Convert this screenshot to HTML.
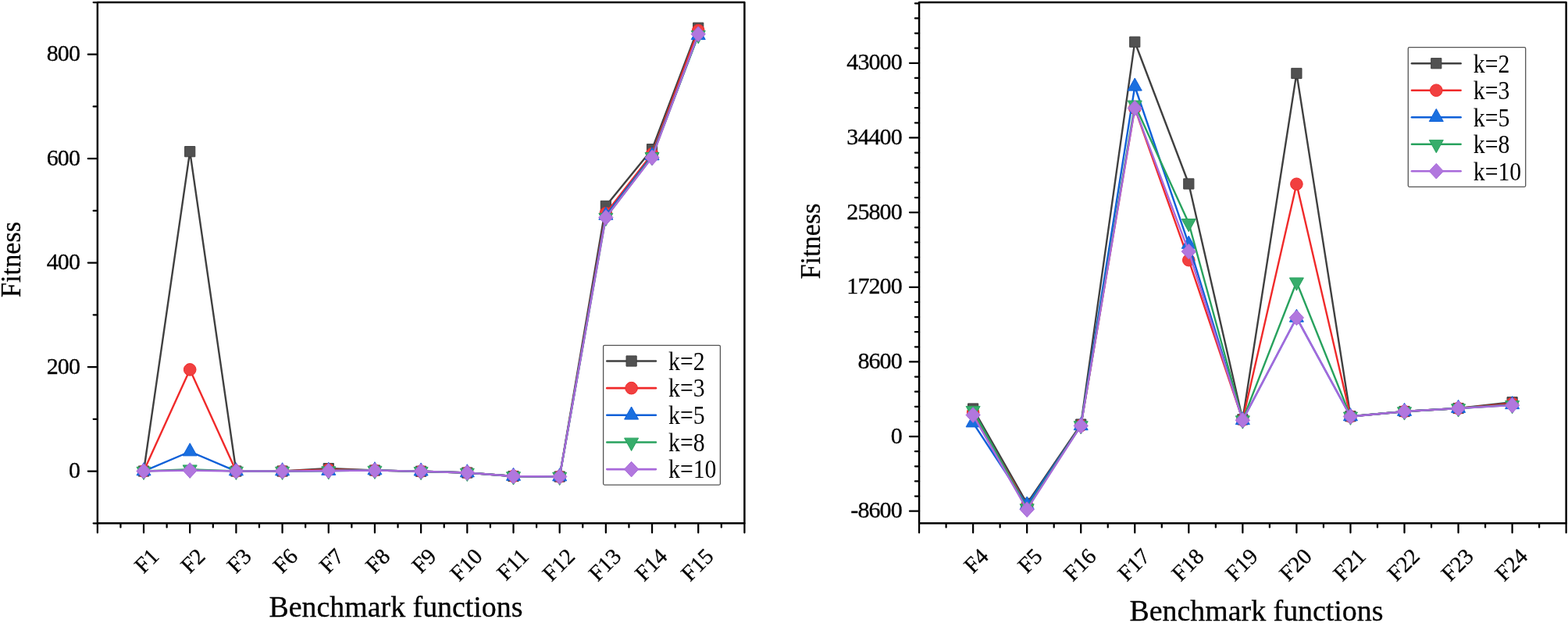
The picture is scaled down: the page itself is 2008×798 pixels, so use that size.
<!DOCTYPE html>
<html lang="en">
<head>
<meta charset="utf-8">
<title>Fitness on benchmark functions for different k</title>
<style>
html,body{margin:0;padding:0;background:#fff;}
body{width:2008px;height:798px;overflow:hidden;}
svg{display:block;font-family:'Liberation Serif', 'DejaVu Serif', serif;}
text{fill:#000;}
.b{stroke:#000;stroke-width:0.3;}
polyline{fill:none;stroke-width:2.4;stroke-linejoin:round;stroke-linecap:round;}
.l0{stroke:#404040;}.l1{stroke:#F02A2A;}.l2{stroke:#0F60D8;}.l3{stroke:#28A25E;}.l4{stroke:#A869DA;}
.m0,.m1,.m2,.m3,.m4{stroke-width:1;stroke-linejoin:round;}
.m0{fill:#515151;stroke:#404040;}
.m1{fill:#F14040;stroke:#F02A2A;}
.m2{fill:#1A6FDF;stroke:#0F60D8;}
.m3{fill:#37AD6B;stroke:#28A25E;}
.m4{fill:#B177DE;stroke:#A869DA;}
</style>
</head>
<body>
<svg width="2008" height="798" viewBox="0 0 2008 798">
<rect width="2008" height="798" fill="#fff"/>
<g id="left-chart">
<polyline class="l0" points="184.03,603.52 243.21,194.17 302.4,603.52 361.58,603.52 420.76,600.06 479.94,602.52 539.12,603.73 598.31,605.53 657.49,610 716.67,610.53 775.85,263.89 835.04,191.16 894.22,35.7"/>
<g class="m0">
<rect x="177.43" y="596.92" width="13.2" height="13.2"/>
<rect x="236.61" y="187.57" width="13.2" height="13.2"/>
<rect x="295.8" y="596.92" width="13.2" height="13.2"/>
<rect x="354.98" y="596.92" width="13.2" height="13.2"/>
<rect x="414.16" y="593.46" width="13.2" height="13.2"/>
<rect x="473.34" y="595.92" width="13.2" height="13.2"/>
<rect x="532.52" y="597.13" width="13.2" height="13.2"/>
<rect x="591.71" y="598.93" width="13.2" height="13.2"/>
<rect x="650.89" y="603.4" width="13.2" height="13.2"/>
<rect x="710.07" y="603.93" width="13.2" height="13.2"/>
<rect x="769.25" y="257.29" width="13.2" height="13.2"/>
<rect x="828.44" y="184.56" width="13.2" height="13.2"/>
<rect x="887.62" y="29.1" width="13.2" height="13.2"/>
</g>
<polyline class="l1" points="184.03,603.52 243.21,473.41 302.4,603.52 361.58,603.52 420.76,601.52 479.94,602.52 539.12,603.73 598.31,605.53 657.49,610 716.67,610.53 775.85,273.24 835.04,197.17 894.22,39.03"/>
<g class="m1">
<circle cx="184.03" cy="603.52" r="7.8"/>
<circle cx="243.21" cy="473.41" r="7.8"/>
<circle cx="302.4" cy="603.52" r="7.8"/>
<circle cx="361.58" cy="603.52" r="7.8"/>
<circle cx="420.76" cy="601.52" r="7.8"/>
<circle cx="479.94" cy="602.52" r="7.8"/>
<circle cx="539.12" cy="603.73" r="7.8"/>
<circle cx="598.31" cy="605.53" r="7.8"/>
<circle cx="657.49" cy="610" r="7.8"/>
<circle cx="716.67" cy="610.53" r="7.8"/>
<circle cx="775.85" cy="273.24" r="7.8"/>
<circle cx="835.04" cy="197.17" r="7.8"/>
<circle cx="894.22" cy="39.03" r="7.8"/>
</g>
<polyline class="l2" points="184.03,603.52 243.21,578.5 302.4,603.52 361.58,603.52 420.76,603.06 479.94,602.52 539.12,603.73 598.31,605.53 657.49,610 716.67,610.53 775.85,275.91 835.04,199.51 894.22,45.3"/>
<g class="m2">
<polygon points="184.03,592.73 193.03,608.82 175.03,608.82"/>
<polygon points="243.21,567.7 252.21,583.8 234.21,583.8"/>
<polygon points="302.4,592.73 311.4,608.82 293.4,608.82"/>
<polygon points="361.58,592.73 370.58,608.82 352.58,608.82"/>
<polygon points="420.76,592.26 429.76,608.36 411.76,608.36"/>
<polygon points="479.94,591.72 488.94,607.82 470.94,607.82"/>
<polygon points="539.12,592.93 548.12,609.03 530.12,609.03"/>
<polygon points="598.31,594.73 607.31,610.83 589.31,610.83"/>
<polygon points="657.49,599.2 666.49,615.3 648.49,615.3"/>
<polygon points="716.67,599.73 725.67,615.83 707.67,615.83"/>
<polygon points="775.85,265.11 784.85,281.21 766.85,281.21"/>
<polygon points="835.04,188.71 844.04,204.81 826.04,204.81"/>
<polygon points="894.22,34.5 903.22,50.6 885.22,50.6"/>
</g>
<polyline class="l3" points="184.03,603.52 243.21,601.19 302.4,603.52 361.58,603.52 420.76,603.06 479.94,602.52 539.12,603.73 598.31,605.53 657.49,610 716.67,610.53 775.85,278.57 835.04,200.84 894.22,44.77"/>
<g class="m3">
<polygon points="175.03,598.23 193.03,598.23 184.03,614.52"/>
<polygon points="234.21,595.89 252.21,595.89 243.21,612.19"/>
<polygon points="293.4,598.23 311.4,598.23 302.4,614.52"/>
<polygon points="352.58,598.23 370.58,598.23 361.58,614.52"/>
<polygon points="411.76,597.76 429.76,597.76 420.76,614.06"/>
<polygon points="470.94,597.22 488.94,597.22 479.94,613.52"/>
<polygon points="530.12,598.43 548.12,598.43 539.12,614.73"/>
<polygon points="589.31,600.23 607.31,600.23 598.31,616.53"/>
<polygon points="648.49,604.7 666.49,604.7 657.49,621"/>
<polygon points="707.67,605.23 725.67,605.23 716.67,621.53"/>
<polygon points="766.85,273.27 784.85,273.27 775.85,289.57"/>
<polygon points="826.04,195.54 844.04,195.54 835.04,211.84"/>
<polygon points="885.22,39.47 903.22,39.47 894.22,55.77"/>
</g>
<polyline class="l4" points="184.03,603.52 243.21,602.52 302.4,603.52 361.58,603.52 420.76,603.06 479.94,602.52 539.12,603.73 598.31,605.53 657.49,610 716.67,610.53 775.85,278.57 835.04,201.84 894.22,43.7"/>
<g class="m4">
<polygon points="184.03,593.73 193.13,603.52 184.03,613.32 174.93,603.52"/>
<polygon points="243.21,592.72 252.31,602.52 243.21,612.32 234.11,602.52"/>
<polygon points="302.4,593.73 311.5,603.52 302.4,613.32 293.3,603.52"/>
<polygon points="361.58,593.73 370.68,603.52 361.58,613.32 352.48,603.52"/>
<polygon points="420.76,593.26 429.86,603.06 420.76,612.86 411.66,603.06"/>
<polygon points="479.94,592.72 489.04,602.52 479.94,612.32 470.84,602.52"/>
<polygon points="539.12,593.93 548.23,603.73 539.12,613.53 530.02,603.73"/>
<polygon points="598.31,595.73 607.41,605.53 598.31,615.33 589.21,605.53"/>
<polygon points="657.49,600.2 666.59,610 657.49,619.8 648.39,610"/>
<polygon points="716.67,600.73 725.77,610.53 716.67,620.33 707.57,610.53"/>
<polygon points="775.85,268.77 784.95,278.57 775.85,288.37 766.75,278.57"/>
<polygon points="835.04,192.04 844.14,201.84 835.04,211.64 825.94,201.84"/>
<polygon points="894.22,33.9 903.32,43.7 894.22,53.5 885.12,43.7"/>
</g>
<g stroke="#000" stroke-width="2.45" fill="none" stroke-linecap="butt">
<rect x="124.85" y="3" width="828.55" height="667.25" stroke-linejoin="round"/>
<path d="M124.85 670.25v12.1M154.44 670.25v5.2M184.03 670.25v12.1M213.62 670.25v5.2M243.21 670.25v12.1M272.81 670.25v5.2M302.4 670.25v12.1M331.99 670.25v5.2M361.58 670.25v12.1M391.17 670.25v5.2M420.76 670.25v12.1M450.35 670.25v5.2M479.94 670.25v12.1M509.53 670.25v5.2M539.12 670.25v12.1M568.72 670.25v5.2M598.31 670.25v12.1M627.9 670.25v5.2M657.49 670.25v12.1M687.08 670.25v5.2M716.67 670.25v12.1M746.26 670.25v5.2M775.85 670.25v12.1M805.44 670.25v5.2M835.04 670.25v12.1M864.63 670.25v5.2M894.22 670.25v12.1M923.81 670.25v5.2M953.4 670.25v12.1M124.85 670.25h-5.2M124.85 603.52h-12.1M124.85 536.8h-5.2M124.85 470.07h-12.1M124.85 403.35h-5.2M124.85 336.62h-12.1M124.85 269.9h-5.2M124.85 203.18h-12.1M124.85 136.45h-5.2M124.85 69.73h-12.1M124.85 3h-5.2" stroke-linecap="round" stroke-width="2.25"/>
</g>
<g class="b" font-size="30" text-anchor="end" letter-spacing="-0.9">
<text x="102" y="612.02">0</text>
<text x="102" y="478.57">200</text>
<text x="102" y="345.12">400</text>
<text x="102" y="211.68">600</text>
<text x="102" y="78.23">800</text>
</g>
<g class="b" font-size="28.7" text-anchor="end">
<text transform="translate(198.53 707.6) rotate(-45)" y="9.47">F1</text>
<text transform="translate(257.71 707.6) rotate(-45)" y="9.47">F2</text>
<text transform="translate(316.9 707.6) rotate(-45)" y="9.47">F3</text>
<text transform="translate(376.08 707.6) rotate(-45)" y="9.47">F6</text>
<text transform="translate(435.26 707.6) rotate(-45)" y="9.47">F7</text>
<text transform="translate(494.44 707.6) rotate(-45)" y="9.47">F8</text>
<text transform="translate(553.62 707.6) rotate(-45)" y="9.47">F9</text>
<text transform="translate(612.81 707.6) rotate(-45)" y="9.47">F10</text>
<text transform="translate(671.99 707.6) rotate(-45)" y="9.47">F11</text>
<text transform="translate(731.17 707.6) rotate(-45)" y="9.47">F12</text>
<text transform="translate(790.35 707.6) rotate(-45)" y="9.47">F13</text>
<text transform="translate(849.54 707.6) rotate(-45)" y="9.47">F14</text>
<text transform="translate(908.72 707.6) rotate(-45)" y="9.47">F15</text>
</g>
<text transform="translate(507 790) scale(1.013 1)" font-size="37.4" text-anchor="middle" class="b">Benchmark functions</text>
<text transform="translate(26.3 332.4) rotate(-90) scale(0.95 1)" font-size="36.1" text-anchor="middle" class="b">Fitness</text>
<rect x="772.6" y="442.3" width="149.8" height="178.8" rx="1.5" fill="#fff" stroke="#555" stroke-width="1.3"/>
<line x1="777.3" y1="462.5" x2="839.9" y2="462.5" stroke="#404040" stroke-width="2.6" stroke-linecap="round"/>
<rect class="m0" x="802" y="455.9" width="13.2" height="13.2"/>
<text transform="translate(856.1 473.8) scale(0.99 1.11)" font-size="30" fill="#2e2e2e">k=2</text>
<line x1="777.3" y1="497.15" x2="839.9" y2="497.15" stroke="#F02A2A" stroke-width="2.6" stroke-linecap="round"/>
<circle class="m1" cx="808.6" cy="497.15" r="7.8"/>
<text transform="translate(856.1 508.45) scale(0.99 1.11)" font-size="30" fill="#2e2e2e">k=3</text>
<line x1="777.3" y1="531.8" x2="839.9" y2="531.8" stroke="#0F60D8" stroke-width="2.6" stroke-linecap="round"/>
<polygon class="m2" points="808.6,521 817.6,537.1 799.6,537.1"/>
<text transform="translate(856.1 543.1) scale(0.99 1.11)" font-size="30" fill="#2e2e2e">k=5</text>
<line x1="777.3" y1="566.45" x2="839.9" y2="566.45" stroke="#28A25E" stroke-width="2.6" stroke-linecap="round"/>
<polygon class="m3" points="799.6,561.15 817.6,561.15 808.6,577.45"/>
<text transform="translate(856.1 577.75) scale(0.99 1.11)" font-size="30" fill="#2e2e2e">k=8</text>
<line x1="777.3" y1="601.1" x2="839.9" y2="601.1" stroke="#A869DA" stroke-width="2.6" stroke-linecap="round"/>
<polygon class="m4" points="808.6,591.3 817.7,601.1 808.6,610.9 799.5,601.1"/>
<text transform="translate(856.1 612.4) scale(0.99 1.11)" font-size="30" fill="#2e2e2e">k=10</text>
</g>
<g id="right-chart">
<polyline class="l0" points="1246.12,523.52 1315.17,644.89 1384.21,543.58 1453.26,53.7 1522.31,235.47 1591.36,537.36 1660.41,93.99 1729.46,533.24 1798.51,527.01 1867.55,523.01 1936.6,515.23"/>
<g class="m0">
<rect x="1239.52" y="516.92" width="13.2" height="13.2"/>
<rect x="1308.57" y="638.29" width="13.2" height="13.2"/>
<rect x="1377.62" y="536.98" width="13.2" height="13.2"/>
<rect x="1446.66" y="47.1" width="13.2" height="13.2"/>
<rect x="1515.71" y="228.87" width="13.2" height="13.2"/>
<rect x="1584.76" y="530.76" width="13.2" height="13.2"/>
<rect x="1653.81" y="87.39" width="13.2" height="13.2"/>
<rect x="1722.86" y="526.64" width="13.2" height="13.2"/>
<rect x="1791.91" y="520.41" width="13.2" height="13.2"/>
<rect x="1860.95" y="516.41" width="13.2" height="13.2"/>
<rect x="1930" y="508.63" width="13.2" height="13.2"/>
</g>
<polyline class="l1" points="1246.12,528.46 1315.17,648.01 1384.21,545.14 1453.26,138.67 1522.31,333.18 1591.36,537.91 1660.41,235.77 1729.46,533.46 1798.51,527.07 1867.55,523.05 1936.6,516.89"/>
<g class="m1">
<circle cx="1246.12" cy="528.46" r="7.8"/>
<circle cx="1315.17" cy="648.01" r="7.8"/>
<circle cx="1384.21" cy="545.14" r="7.8"/>
<circle cx="1453.26" cy="138.67" r="7.8"/>
<circle cx="1522.31" cy="333.18" r="7.8"/>
<circle cx="1591.36" cy="537.91" r="7.8"/>
<circle cx="1660.41" cy="235.77" r="7.8"/>
<circle cx="1729.46" cy="533.46" r="7.8"/>
<circle cx="1798.51" cy="527.07" r="7.8"/>
<circle cx="1867.55" cy="523.05" r="7.8"/>
<circle cx="1936.6" cy="516.89" r="7.8"/>
</g>
<polyline class="l2" points="1246.12,541.58 1315.17,646.9 1384.21,545.42 1453.26,110.76 1522.31,312.94 1591.36,538.31 1660.41,406.94 1729.46,533.46 1798.51,527.07 1867.55,523.05 1936.6,518.34"/>
<g class="m2">
<polygon points="1246.12,530.78 1255.12,546.88 1237.12,546.88"/>
<polygon points="1315.17,636.1 1324.17,652.2 1306.17,652.2"/>
<polygon points="1384.21,534.62 1393.21,550.72 1375.21,550.72"/>
<polygon points="1453.26,99.96 1462.26,116.06 1444.26,116.06"/>
<polygon points="1522.31,302.14 1531.31,318.24 1513.31,318.24"/>
<polygon points="1591.36,527.51 1600.36,543.61 1582.36,543.61"/>
<polygon points="1660.41,396.14 1669.41,412.24 1651.41,412.24"/>
<polygon points="1729.46,522.66 1738.46,538.76 1720.46,538.76"/>
<polygon points="1798.51,516.27 1807.51,532.37 1789.51,532.37"/>
<polygon points="1867.55,512.25 1876.55,528.35 1858.55,528.35"/>
<polygon points="1936.6,507.54 1945.6,523.64 1927.6,523.64"/>
</g>
<polyline class="l3" points="1246.12,525.68 1315.17,651.01 1384.21,545.03 1453.26,134.34 1522.31,285.8 1591.36,538.13 1660.41,361.2 1729.46,533.35 1798.51,527.07 1867.55,523.05 1936.6,518.78"/>
<g class="m3">
<polygon points="1237.12,520.38 1255.12,520.38 1246.12,536.68"/>
<polygon points="1306.17,645.71 1324.17,645.71 1315.17,662.01"/>
<polygon points="1375.21,539.73 1393.21,539.73 1384.21,556.03"/>
<polygon points="1444.26,129.04 1462.26,129.04 1453.26,145.34"/>
<polygon points="1513.31,280.5 1531.31,280.5 1522.31,296.8"/>
<polygon points="1582.36,532.83 1600.36,532.83 1591.36,549.13"/>
<polygon points="1651.41,355.9 1669.41,355.9 1660.41,372.2"/>
<polygon points="1720.46,528.05 1738.46,528.05 1729.46,544.35"/>
<polygon points="1789.51,521.77 1807.51,521.77 1798.51,538.07"/>
<polygon points="1858.55,517.75 1876.55,517.75 1867.55,534.05"/>
<polygon points="1927.6,513.48 1945.6,513.48 1936.6,529.78"/>
</g>
<polyline class="l4" points="1246.12,531.62 1315.17,652.6 1384.21,545.42 1453.26,138.49 1522.31,322.17 1591.36,538.31 1660.41,406.94 1729.46,533.46 1798.51,527.07 1867.55,523.05 1936.6,519.17"/>
<g class="m4">
<polygon points="1246.12,521.82 1255.22,531.62 1246.12,541.42 1237.02,531.62"/>
<polygon points="1315.17,642.8 1324.27,652.6 1315.17,662.4 1306.07,652.6"/>
<polygon points="1384.21,535.62 1393.31,545.42 1384.21,555.22 1375.12,545.42"/>
<polygon points="1453.26,128.69 1462.36,138.49 1453.26,148.29 1444.16,138.49"/>
<polygon points="1522.31,312.37 1531.41,322.17 1522.31,331.97 1513.21,322.17"/>
<polygon points="1591.36,528.51 1600.46,538.31 1591.36,548.11 1582.26,538.31"/>
<polygon points="1660.41,397.14 1669.51,406.94 1660.41,416.74 1651.31,406.94"/>
<polygon points="1729.46,523.66 1738.56,533.46 1729.46,543.26 1720.36,533.46"/>
<polygon points="1798.51,517.27 1807.61,527.07 1798.51,536.87 1789.41,527.07"/>
<polygon points="1867.55,513.25 1876.65,523.05 1867.55,532.85 1858.45,523.05"/>
<polygon points="1936.6,509.37 1945.7,519.17 1936.6,528.97 1927.5,519.17"/>
</g>
<g stroke="#000" stroke-width="2.45" fill="none" stroke-linecap="butt">
<rect x="1177.07" y="3" width="828.58" height="667.25" stroke-linejoin="round"/>
<path d="M1177.07 670.25v12.1M1211.59 670.25v5.2M1246.12 670.25v12.1M1280.64 670.25v5.2M1315.17 670.25v12.1M1349.69 670.25v5.2M1384.21 670.25v12.1M1418.74 670.25v5.2M1453.26 670.25v12.1M1487.79 670.25v5.2M1522.31 670.25v12.1M1556.84 670.25v5.2M1591.36 670.25v12.1M1625.88 670.25v5.2M1660.41 670.25v12.1M1694.93 670.25v5.2M1729.46 670.25v12.1M1763.98 670.25v5.2M1798.51 670.25v12.1M1833.03 670.25v5.2M1867.55 670.25v12.1M1902.08 670.25v5.2M1936.6 670.25v12.1M1971.13 670.25v5.2M2005.65 670.25v12.1M1177.07 654.68h-12.1M1177.07 635.55h-5.2M1177.07 616.43h-5.2M1177.07 597.3h-5.2M1177.07 578.17h-5.2M1177.07 559.04h-12.1M1177.07 539.91h-5.2M1177.07 520.79h-5.2M1177.07 501.66h-5.2M1177.07 482.53h-5.2M1177.07 463.4h-12.1M1177.07 444.27h-5.2M1177.07 425.15h-5.2M1177.07 406.02h-5.2M1177.07 386.89h-5.2M1177.07 367.76h-12.1M1177.07 348.64h-5.2M1177.07 329.51h-5.2M1177.07 310.38h-5.2M1177.07 291.25h-5.2M1177.07 272.12h-12.1M1177.07 253h-5.2M1177.07 233.87h-5.2M1177.07 214.74h-5.2M1177.07 195.61h-5.2M1177.07 176.49h-12.1M1177.07 157.36h-5.2M1177.07 138.23h-5.2M1177.07 119.1h-5.2M1177.07 99.97h-5.2M1177.07 80.85h-12.1M1177.07 61.72h-5.2M1177.07 42.59h-5.2M1177.07 23.46h-5.2M1177.07 4.33h-5.2" stroke-linecap="round" stroke-width="2.25"/>
</g>
<g class="b" font-size="30" text-anchor="end" letter-spacing="-0.9">
<text x="1154.8" y="663.18">-8600</text>
<text x="1154.8" y="567.54">0</text>
<text x="1154.8" y="471.9">8600</text>
<text x="1154.8" y="376.26">17200</text>
<text x="1154.8" y="280.62">25800</text>
<text x="1154.8" y="184.99">34400</text>
<text x="1154.8" y="89.35">43000</text>
</g>
<g class="b" font-size="28.7" text-anchor="end">
<text transform="translate(1260.62 707.6) rotate(-45)" y="9.47">F4</text>
<text transform="translate(1329.67 707.6) rotate(-45)" y="9.47">F5</text>
<text transform="translate(1398.71 707.6) rotate(-45)" y="9.47">F16</text>
<text transform="translate(1467.76 707.6) rotate(-45)" y="9.47">F17</text>
<text transform="translate(1536.81 707.6) rotate(-45)" y="9.47">F18</text>
<text transform="translate(1605.86 707.6) rotate(-45)" y="9.47">F19</text>
<text transform="translate(1674.91 707.6) rotate(-45)" y="9.47">F20</text>
<text transform="translate(1743.96 707.6) rotate(-45)" y="9.47">F21</text>
<text transform="translate(1813.01 707.6) rotate(-45)" y="9.47">F22</text>
<text transform="translate(1882.05 707.6) rotate(-45)" y="9.47">F23</text>
<text transform="translate(1951.1 707.6) rotate(-45)" y="9.47">F24</text>
</g>
<text transform="translate(1609 795) scale(1.013 1)" font-size="37.4" text-anchor="middle" class="b">Benchmark functions</text>
<text transform="translate(1050.4 309) rotate(-90) scale(0.95 1)" font-size="36.1" text-anchor="middle" class="b">Fitness</text>
<rect x="1803.3" y="60.7" width="150.4" height="178.6" rx="1.5" fill="#fff" stroke="#555" stroke-width="1.3"/>
<line x1="1808" y1="81.2" x2="1870.6" y2="81.2" stroke="#404040" stroke-width="2.6" stroke-linecap="round"/>
<rect class="m0" x="1832.7" y="74.6" width="13.2" height="13.2"/>
<text transform="translate(1886.8 92.5) scale(0.99 1.11)" font-size="30" fill="#2e2e2e">k=2</text>
<line x1="1808" y1="115.7" x2="1870.6" y2="115.7" stroke="#F02A2A" stroke-width="2.6" stroke-linecap="round"/>
<circle class="m1" cx="1839.3" cy="115.7" r="7.8"/>
<text transform="translate(1886.8 127) scale(0.99 1.11)" font-size="30" fill="#2e2e2e">k=3</text>
<line x1="1808" y1="150.2" x2="1870.6" y2="150.2" stroke="#0F60D8" stroke-width="2.6" stroke-linecap="round"/>
<polygon class="m2" points="1839.3,139.4 1848.3,155.5 1830.3,155.5"/>
<text transform="translate(1886.8 161.5) scale(0.99 1.11)" font-size="30" fill="#2e2e2e">k=5</text>
<line x1="1808" y1="184.7" x2="1870.6" y2="184.7" stroke="#28A25E" stroke-width="2.6" stroke-linecap="round"/>
<polygon class="m3" points="1830.3,179.4 1848.3,179.4 1839.3,195.7"/>
<text transform="translate(1886.8 196) scale(0.99 1.11)" font-size="30" fill="#2e2e2e">k=8</text>
<line x1="1808" y1="219.2" x2="1870.6" y2="219.2" stroke="#A869DA" stroke-width="2.6" stroke-linecap="round"/>
<polygon class="m4" points="1839.3,209.4 1848.4,219.2 1839.3,229 1830.2,219.2"/>
<text transform="translate(1886.8 230.5) scale(0.99 1.11)" font-size="30" fill="#2e2e2e">k=10</text>
</g>
</svg>
</body>
</html>
